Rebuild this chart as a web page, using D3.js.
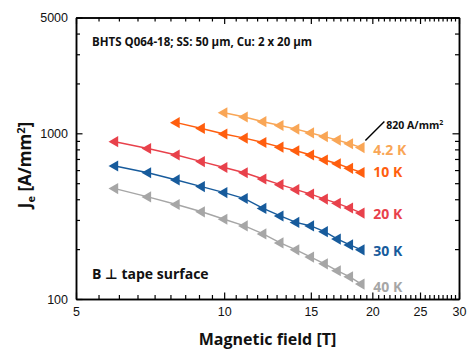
<!DOCTYPE html>
<html><head><meta charset="utf-8">
<script src="https://cdn.jsdelivr.net/npm/d3@7/dist/d3.min.js"></script>
<style>body{margin:0;background:#fff} svg{display:block}</style>
</head><body>
<svg id="chart" width="474" height="358"></svg>
<script>
// ---- data ----
const xTickLabels = [5, 10, 15, 20, 25, 30];
const yTickLabels = [100, 1000, 5000];
const yMinorTicks = [200, 300, 400, 500, 600, 700, 800, 900, 2000, 3000, 4000];

const seriesNames = ["4.2 K", "10 K", "20 K", "30 K", "40 K"];
const field_4K  = [10, 11, 12, 13, 14, 15, 16, 17, 18, 19];
const je_4K     = [1330, 1255, 1175, 1115, 1060, 1005, 955, 910, 865, 820];
const field_10K = [8, 9, 10, 11, 12, 13, 14, 15, 16, 17, 18, 19];
const je_10K    = [1160, 1070, 990, 935, 880, 825, 785, 740, 690, 655, 615, 580];
const field_20K = [6, 7, 8, 9, 10, 11, 12, 13, 14, 15, 16, 17, 18, 19];
const je_20K    = [890, 810, 740, 675, 622, 578, 530, 490, 457, 430, 401, 378, 354, 330];
const field_30K = [6, 7, 8, 9, 10, 11, 12, 13, 14, 15, 16, 17, 18, 19];
const je_30K    = [635, 578, 523, 477, 439, 404, 352, 317, 290, 276, 255, 230, 212, 198];
const field_40K = [6, 7, 8, 9, 10, 11, 12, 13, 14, 15, 16, 17, 18, 19];
const je_40K    = [464, 413, 372, 336, 303, 276, 247, 218, 198, 179, 163, 148, 136, 123];

const titleText = "BHTS Q064-18; SS: 50 \u00b5m, Cu: 2 x 20 \u00b5m";
const orientText = "B \u22a5 tape surface";

// ---- styles / layout ----
const colors = ["#F9A656", "#FF5E0E", "#E8414B", "#175B9C", "#A6A6A6"];
const labelDy = [7, 4, 6, 6, 8];
const L = 76, R = 459, T = 17.5, B = 299;
const labelFont = "'Open Sans', 'DejaVu Sans', sans-serif";
const tickFont = "'Liberation Sans', Arial, sans-serif";

const series = [
  [field_4K, je_4K], [field_10K, je_10K], [field_20K, je_20K],
  [field_30K, je_30K], [field_40K, je_40K]
].map(([f, j], i) => ({name: seriesNames[i], color: colors[i], pts: f.map((v, k) => [v, j[k]])}));

const svg = d3.select("#chart");
const x = d3.scaleLog().domain([5, 30]).range([L, R]);
const y = d3.scaleLog().domain([100, 5000]).range([B, T]);

// minor x ticks: each 5-unit interval divided in 9
const xMinor = [];
for (let a = 5; a < 30; a += 5) for (let k = 1; k < 9; k++) xMinor.push(a + 5 * k / 9);

function styleAxis(g) {
  g.select(".domain").attr("stroke", "#000").attr("stroke-width", 1.5);
  g.selectAll(".tick line").attr("stroke", "#000").attr("stroke-width", 1.2);
  g.selectAll("text").attr("font-family", tickFont).attr("font-size", 12.5).attr("fill", "#111");
}
// minor ticks
svg.append("g").attr("transform", `translate(0,${B})`)
  .call(d3.axisBottom(x).tickValues(xMinor).tickSizeInner(-4).tickSizeOuter(0).tickFormat(""))
  .call(styleAxis);
svg.append("g").attr("transform", `translate(0,${T})`)
  .call(d3.axisTop(x).tickValues(xMinor).tickSizeInner(-4).tickSizeOuter(0).tickFormat(""))
  .call(styleAxis);
svg.append("g").attr("transform", `translate(${L},0)`)
  .call(d3.axisLeft(y).tickValues(yMinorTicks).tickSizeInner(-4).tickSizeOuter(0).tickFormat(""))
  .call(styleAxis);
svg.append("g").attr("transform", `translate(${R},0)`)
  .call(d3.axisRight(y).tickValues(yMinorTicks).tickSizeInner(-4).tickSizeOuter(0).tickFormat(""))
  .call(styleAxis);
// major ticks
svg.append("g").attr("transform", `translate(0,${B})`)
  .call(d3.axisBottom(x).tickValues(xTickLabels).tickSizeInner(-6.5).tickSizeOuter(0).tickPadding(8).tickFormat(d3.format("d")))
  .call(styleAxis);
svg.append("g").attr("transform", `translate(0,${T})`)
  .call(d3.axisTop(x).tickValues(xTickLabels).tickSizeInner(-6.5).tickSizeOuter(0).tickFormat(""))
  .call(styleAxis);
svg.append("g").attr("transform", `translate(${L},0)`)
  .call(d3.axisLeft(y).tickValues(yTickLabels).tickSizeInner(-6.5).tickSizeOuter(0).tickPadding(8).tickFormat(d3.format("d")))
  .call(styleAxis);
svg.append("g").attr("transform", `translate(${R},0)`)
  .call(d3.axisRight(y).tickValues(yTickLabels).tickSizeInner(-6.5).tickSizeOuter(0).tickFormat(""))
  .call(styleAxis);

// series
const line = d3.line().x(d => x(d[0])).y(d => y(d[1]));
const tri = d3.symbol().type(d3.symbolTriangle).size(54);
series.forEach((s, i) => {
  const g = svg.append("g");
  g.append("path").attr("d", line(s.pts)).attr("fill", "none")
    .attr("stroke", s.color).attr("stroke-width", 1.4);
  g.selectAll("path.m").data(s.pts).join("path").attr("class", "m")
    .attr("d", tri)
    .attr("transform", d => `translate(${x(d[0])},${y(d[1])}) rotate(-90)`)
    .attr("fill", s.color);
  const last = s.pts[s.pts.length - 1];
  svg.append("text").attr("x", x(last[0]) + 12).attr("y", y(last[1]) + labelDy[i])
    .attr("font-family", labelFont).attr("font-weight", "bold").attr("font-size", 14)
    .attr("fill", s.color).text(s.name);
});

// 820 annotation
const a = series[0].pts[series[0].pts.length - 1];
svg.append("line").attr("x1", x(a[0]) + 4).attr("y1", y(a[1]) - 7)
  .attr("x2", x(a[0]) + 23).attr("y2", y(a[1]) - 26)
  .attr("stroke", "#000").attr("stroke-width", 1.4);
const t820 = svg.append("text").attr("x", x(a[0]) + 25).attr("y", y(a[1]) - 19)
  .attr("font-family", labelFont).attr("font-weight", "bold").attr("font-size", 10.5).attr("fill", "#111");
t820.append("tspan").text(`${a[1]} A/mm`);
t820.append("tspan").attr("dy", -4).attr("font-size", 7).text("2");

// title & orientation
svg.append("text").attr("x", 92).attr("y", 46)
  .attr("font-family", labelFont).attr("font-weight", "bold").attr("font-size", 11.5).attr("fill", "#111")
  .text(titleText);
svg.append("text").attr("x", 92).attr("y", 279)
  .attr("font-family", labelFont).attr("font-weight", "bold").attr("font-size", 14).attr("fill", "#111")
  .text(orientText);

// axis titles
svg.append("text").attr("x", (L + R) / 2).attr("y", 345).attr("text-anchor", "middle")
  .attr("font-family", labelFont).attr("font-weight", "bold").attr("font-size", 16).attr("fill", "#111")
  .text("Magnetic field [T]");
const yl = svg.append("text").attr("transform", `translate(31,165) rotate(-90)`).attr("text-anchor", "middle")
  .attr("font-family", labelFont).attr("font-weight", "bold").attr("font-size", 17).attr("fill", "#111");
yl.append("tspan").text("J");
yl.append("tspan").attr("dy", 4).attr("font-size", 11).text("e");
yl.append("tspan").attr("dy", -4).text(" [A/mm");
yl.append("tspan").attr("dy", -6).attr("font-size", 11).text("2");
yl.append("tspan").attr("dy", 6).text("]");
</script>
</body></html>
